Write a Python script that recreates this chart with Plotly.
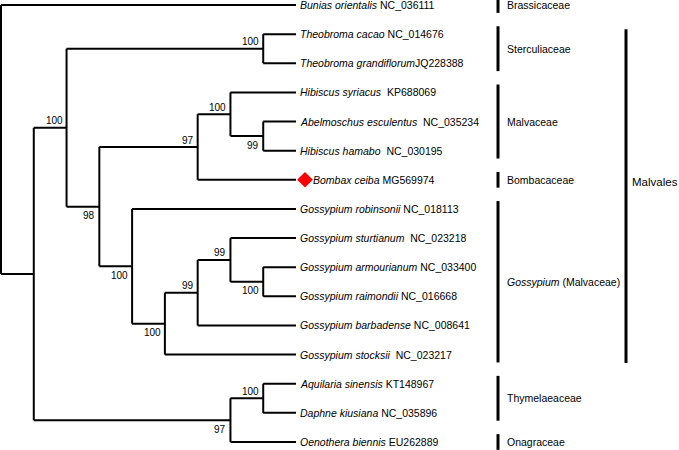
import plotly.graph_objects as go

# ---------------- data ----------------
species = ["Bunias orientalis", "Theobroma cacao", "Theobroma grandiflorum",
           "Hibiscus syriacus", "Abelmoschus esculentus", "Hibiscus hamabo",
           "Bombax ceiba", "Gossypium robinsonii", "Gossypium sturtianum",
           "Gossypium armourianum", "Gossypium raimondii", "Gossypium barbadense",
           "Gossypium stocksii", "Aquilaria sinensis", "Daphne kiusiana",
           "Oenothera biennis"]
accessions = ["NC_036111", "NC_014676", "JQ228388", "KP688069", "NC_035234",
              "NC_030195", "MG569974", "NC_018113", "NC_023218", "NC_033400",
              "NC_016668", "NC_008641", "NC_023217", "KT148967", "NC_035896",
              "EU262889"]
name_sep = [" ", " ", "", "  ", "  ", "  ", " ", " ", "  ", " ", " ", " ",
            "  ", " ", " ", " "]
highlight_leaf = 6  # Bombax ceiba

# internal nodes (cladogram depth, children, bootstrap support)
node_ids = ["theo", "hib2", "hib", "malv_bomb", "gos4", "gos3", "gos2", "gos1",
            "gos", "mb_gos", "malvales", "thy", "thy_ona", "ingroup", "root"]
node_depth = [8, 8, 7, 6, 8, 7, 6, 5, 4, 3, 2, 8, 7, 1, 0]
node_children = [[1, 2], [4, 5], [3, "hib2"], ["hib", 6], [9, 10], [8, "gos4"],
                 ["gos3", 11], ["gos2", 12], [7, "gos1"], ["malv_bomb", "gos"],
                 ["theo", "mb_gos"], [13, 14], ["thy", 15],
                 ["malvales", "thy_ona"], [0, "ingroup"]]
node_support = [100, 99, 100, 97, 100, 99, 99, 100, 100, 98, 100, 100, 97, None, None]
support_side = ["above", "below", "above", "above", "below", "above", "above",
                "below", "below", "below", "above", "above", "below", None, None]
leaf_depth = 9

# family groups (first leaf, last leaf)
families = ["Brassicaceae", "Sterculiaceae", "Malvaceae", "Bombacaceae",
            "<i>Gossypium</i> (Malvaceae)", "Thymelaeaceae", "Onagraceae"]
family_first = [0, 1, 3, 6, 7, 13, 15]
family_last = [0, 2, 5, 6, 12, 14, 15]
order_name = "Malvales"
order_first, order_last = 1, 12

# ---------------- layout constants ----------------
W, H = 679, 450
XS = 295 / 9.0          # px per depth unit
YS = 437 / 15.0         # px per leaf step
x0 = -1 / XS
y0 = -5 / YS
FONT = "Arial, 'Liberation Sans', sans-serif"

# ---------------- tree geometry ----------------
depth = {i: leaf_depth for i in range(len(species))}
ypos = {i: float(i) for i in range(len(species))}
for nid, d, ch in zip(node_ids, node_depth, node_children):
    depth[nid] = d
    ypos[nid] = (ypos[ch[0]] + ypos[ch[-1]]) / 2.0

xs, ys = [], []
for nid, d, ch in zip(node_ids, node_depth, node_children):
    xs += [d, d, None]
    ys += [ypos[ch[0]], ypos[ch[-1]], None]
    for c in ch:
        xs += [d, depth[c], None]
        ys += [ypos[c], ypos[c], None]

fig = go.Figure()
fig.add_trace(go.Scatter(x=xs, y=ys, mode="lines",
                         line=dict(color="black", width=2), hoverinfo="skip",
                         showlegend=False))

# highlighted taxon marker
fig.add_trace(go.Scatter(x=[leaf_depth + 9 / XS], y=[highlight_leaf], mode="markers",
                         marker=dict(symbol="diamond", color="#ff0000", size=12,
                                     line=dict(width=0)),
                         hoverinfo="skip", showlegend=False))

ann = []
for i, (sp, sep, acc) in enumerate(zip(species, name_sep, accessions)):
    txt = f"<i>{sp}</i>{sep}{acc}".replace("  ", "&nbsp; ")
    shift = 15 if i == highlight_leaf else 2
    ann.append(dict(x=leaf_depth, y=i, text=txt, xanchor="left", yanchor="middle",
                    xshift=shift, showarrow=False,
                    font=dict(family=FONT, size=10.5, color="black")))

for nid, d, s, side in zip(node_ids, node_depth, node_support, support_side):
    if s is None:
        continue
    ann.append(dict(x=d, y=ypos[nid], text=str(s), xanchor="right", yanchor="middle",
                    xshift=-2, yshift=7 if side == "above" else -9, showarrow=False,
                    font=dict(family=FONT, size=10, color="black")))

fam_x = (498 - 1) / XS
ord_x = (626 - 1) / XS
shapes = []
for name, a, b in zip(families, family_first, family_last):
    shapes.append(dict(type="line", x0=fam_x, x1=fam_x, y0=a - 0.27, y1=b + 0.27,
                       line=dict(color="black", width=3)))
    ann.append(dict(x=fam_x, y=(a + b) / 2.0, text=name, xanchor="left",
                    yanchor="middle", xshift=7, showarrow=False,
                    font=dict(family=FONT, size=10.5, color="black")))
shapes.append(dict(type="line", x0=ord_x, x1=ord_x, y0=order_first - 0.17,
                   y1=order_last + 0.29, line=dict(color="black", width=3)))
ann.append(dict(x=ord_x, y=(order_first + order_last) / 2.0, text=order_name,
                xanchor="left", yanchor="middle", xshift=4, yshift=12, showarrow=False,
                font=dict(family=FONT, size=11.5, color="black")))

fig.update_layout(
    width=W, height=H, margin=dict(l=0, r=0, t=0, b=0),
    paper_bgcolor="white", plot_bgcolor="white",
    xaxis=dict(range=[x0, x0 + W / XS], visible=False, fixedrange=True),
    yaxis=dict(range=[y0 + H / YS, y0], visible=False, fixedrange=True),
    annotations=ann, shapes=shapes, showlegend=False,
)
fig.write_html("out.html", config={"displayModeBar": False},
               post_script="document.body.style.margin='0';document.body.style.overflow='hidden';")
